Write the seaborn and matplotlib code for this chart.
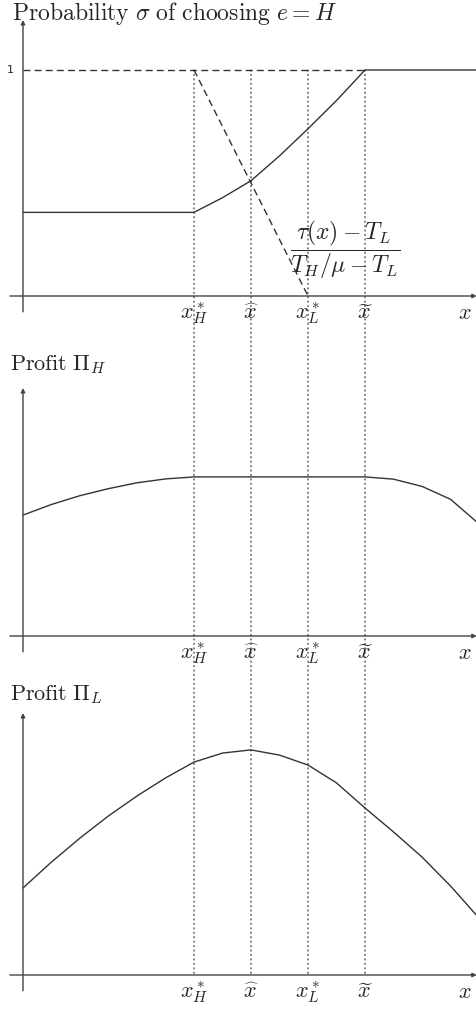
import numpy as np
import pandas as pd
import seaborn as sns
import matplotlib.pyplot as plt
from matplotlib.patches import ConnectionPatch

sns.set_style("white")
plt.rcParams["mathtext.fontset"] = "cm"

# Data (x in units of the marked points)
x_grid = [0, 0.5, 1, 1.5, 2, 2.5, 3, 3.5, 4, 4.5, 5, 5.5, 6, 6.5, 7, 7.5, 8]
sigma_h = [0.37, 0.37, 0.37, 0.37, 0.37, 0.37, 0.37, 0.435, 0.51, 0.62, 0.74, 0.865,
           1.0, 1.0, 1.0, 1.0, 1.0]
profit_h = [0.535, 0.582, 0.621, 0.652, 0.678, 0.695, 0.704, 0.704, 0.704, 0.704, 0.704,
            0.704, 0.704, 0.694, 0.662, 0.605, 0.496]
profit_l = [0.385, 0.50, 0.606, 0.704, 0.792, 0.872, 0.942, 0.982, 0.996, 0.973, 0.929,
            0.850, 0.739, 0.633, 0.522, 0.394, 0.252]
ratio_x = [3, 5]
ratio_y = [1, 0]
one_x = [0, 6]
one_y = [1, 1]
marks = [3, 4, 5, 6]
mark_labels = [r"$x_H^*$", r"$\widehat{x}$", r"$x_L^*$", r"$\widetilde{x}$"]

W, H = 477, 1013
fig = plt.figure(figsize=(W / 100, H / 100), dpi=100)
PX = 226.0   # pixels per y unit
XU = 57.0    # pixels per x unit
X0 = 23.0    # pixel of the y axis


def make_ax(top, bottom, axis_px):
    ax = fig.add_axes([0, 1 - bottom / H, 1, (bottom - top) / H])
    ax.set_xlim(-X0 / XU, (W - X0) / XU)
    ax.set_ylim(-(bottom - axis_px) / PX, (axis_px - top) / PX)
    ax.axis("off")
    return ax


def draw_axes(ax, ytop):
    arr = dict(arrowstyle="-|>", lw=1.0, color="#444444", mutation_scale=6,
               shrinkA=0, shrinkB=0)
    ax.annotate("", xy=(7.96, 0), xytext=(-0.23, 0), arrowprops=arr)
    ax.annotate("", xy=(0, ytop), xytext=(0, -0.07), arrowprops=arr)
    for xm, lab in zip(marks, mark_labels):
        ax.text(xm, -0.10, lab, ha="center", va="baseline", fontsize=16)
    ax.text(7.75, -0.10, r"$x$", ha="center", va="baseline", fontsize=16)


line_kw = dict(color="#333333", lw=1.0)
dash_kw = dict(color="#333333", lw=1.0, dashes=(5, 3))

# Panel 1: probability sigma
ax1 = make_ax(15, 330, 296)
draw_axes(ax1, (296 - 20) / PX)
sns.lineplot(x=x_grid, y=sigma_h, ax=ax1, **line_kw)
sns.lineplot(x=one_x, y=one_y, ax=ax1, **dash_kw)
sns.lineplot(x=ratio_x, y=ratio_y, ax=ax1, **dash_kw)
ax1.text(-0.23, 1, "1", ha="center", va="center", fontsize=8)
ax1.text(5.65, 0.205, r"$\dfrac{\tau(x)-T_L}{T_H/\mu-T_L}$", ha="center", va="center",
         fontsize=17)

# Panel 2: profit of H
ax2 = make_ax(380, 670, 636)
draw_axes(ax2, (636 - 388) / PX)
sns.lineplot(x=x_grid, y=profit_h, ax=ax2, **line_kw)

# Panel 3: profit of L
ax3 = make_ax(705, 1013, 975)
draw_axes(ax3, (975 - 713) / PX)
sns.lineplot(x=x_grid, y=profit_l, ax=ax3, **line_kw)

# dotted guides through all panels
for xm in marks:
    con = ConnectionPatch(xyA=(xm, 1), coordsA=ax1.transData,
                          xyB=(xm, 0), coordsB=ax3.transData,
                          linestyle=(0, (1, 3)), lw=0.8, color="#222222")
    fig.add_artist(con)

fig.text(12 / W, 1 - 20 / H, r"$\mathrm{Probability}\ \sigma\ \mathrm{of\ choosing}\ e=H$",
         ha="left", va="baseline", fontsize=17)
fig.text(10 / W, 1 - 370 / H, r"$\mathrm{Profit}\ \Pi_H$", ha="left", va="baseline",
         fontsize=16)
fig.text(10 / W, 1 - 700 / H, r"$\mathrm{Profit}\ \Pi_L$", ha="left", va="baseline",
         fontsize=16)

fig.savefig("out.png", dpi=100)
